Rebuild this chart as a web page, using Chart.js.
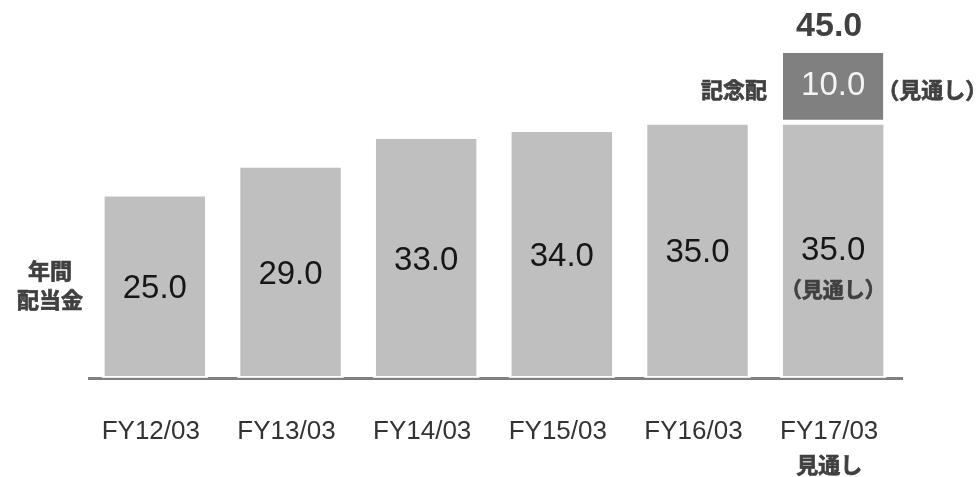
<!DOCTYPE html>
<html>
<head>
<meta charset="utf-8">
<script src="https://cdn.jsdelivr.net/npm/chart.js@4/dist/chart.umd.min.js"></script>
<style>
  html, body { margin: 0; padding: 0; background: #fff; }
  #wrap { width: 979px; height: 477px; }
</style>
</head>
<body>
<div id="wrap"><canvas id="c" width="979" height="477"></canvas></div>
<script>
const categories = ['FY12/03', 'FY13/03', 'FY14/03', 'FY15/03', 'FY16/03', 'FY17/03'];
const ordinaryDividend = [25.0, 29.0, 33.0, 34.0, 35.0, 35.0];
const commemorativeDividend = [null, null, null, null, null, 10.0];
const forecastNote = '（見通し）';
const forecastTickNote = '見通し';
const commemorativeLabel = '記念配';
const axisTitleLines = ['年間', '配当金'];

const JP = '"Noto Sans CJK JP", "Noto Sans", sans-serif';
const NUM = '"Liberation Sans", Arial, sans-serif';

function boldText(ctx, text, x, y) {
  ctx.fillText(text, x, y);
  ctx.lineWidth = 0.7;
  ctx.strokeStyle = ctx.fillStyle;
  ctx.strokeText(text, x, y);
}

const labelsPlugin = {
  id: 'labelsPlugin',
  beforeDatasetsDraw(chart) {
    const { ctx, chartArea } = chart;
    ctx.save();
    ctx.fillStyle = '#808080';
    ctx.fillRect(chartArea.left + 1, chartArea.bottom + 1, chartArea.right - chartArea.left + 1, 3);
    ctx.restore();
  },
  afterDatasetsDraw(chart) {
    const { ctx, chartArea } = chart;
    const base = chart.getDatasetMeta(0);
    const extra = chart.getDatasetMeta(1);
    ctx.save();
    ctx.fillStyle = '#ffffff';
    base.data.forEach(bar => {
      const w = bar.width;
      ctx.fillRect(bar.x - w / 2 - 3, chartArea.bottom + 0.5, w + 6, 1.3);
    });
    ctx.textAlign = 'center';
    ctx.textBaseline = 'middle';
    base.data.forEach((bar, i) => {
      const mid = (bar.y + bar.base) / 2;
      ctx.fillStyle = '#161616';
      ctx.font = '33px ' + NUM;
      if (commemorativeDividend[i] != null) {
        ctx.fillText(ordinaryDividend[i].toFixed(1), bar.x, mid + 1);
        ctx.fillStyle = '#404040';
        ctx.font = 'bold 21px ' + JP;
        boldText(ctx, forecastNote, bar.x, mid + 39);
      } else {
        ctx.fillText(ordinaryDividend[i].toFixed(1), bar.x, mid + 3);
      }
    });
    extra.data.forEach((bar, i) => {
      if (commemorativeDividend[i] == null) return;
      const mid = (bar.y + bar.base - 5) / 2;
      ctx.fillStyle = '#f4f4f4';
      ctx.font = '33px ' + NUM;
      ctx.textAlign = 'center';
      ctx.fillText(commemorativeDividend[i].toFixed(1), bar.x, mid);
      ctx.fillStyle = '#404040';
      ctx.font = 'bold 22px ' + JP;
      ctx.textAlign = 'right';
      boldText(ctx, commemorativeLabel, bar.x - bar.width / 2 - 16, mid + 3);
      ctx.textAlign = 'left';
      boldText(ctx, forecastNote, bar.x + bar.width / 2 - 6, mid + 3);
      ctx.textAlign = 'center';
      ctx.font = 'bold 34px ' + NUM;
      ctx.fillText((ordinaryDividend[i] + commemorativeDividend[i]).toFixed(1), bar.x - 4, bar.y - 26);
    });
    ctx.fillStyle = '#404040';
    ctx.font = 'bold 22px ' + JP;
    ctx.textAlign = 'center';
    boldText(ctx, axisTitleLines[0], 50, 271);
    boldText(ctx, axisTitleLines[1], 50, 300);
    const xs = chart.scales.x;
    const lastX = xs.getPixelForValue(categories.length - 1);
    ctx.font = 'bold 22px ' + JP;
    boldText(ctx, forecastTickNote, lastX - 4, 465);
    ctx.restore();
  }
};

new Chart(document.getElementById('c'), {
  type: 'bar',
  data: {
    labels: categories,
    datasets: [
      {
        data: ordinaryDividend,
        backgroundColor: '#bfbfbf',
        borderWidth: 0,
        barPercentage: 0.74,
        categoryPercentage: 1.0
      },
      {
        data: commemorativeDividend,
        backgroundColor: '#808080',
        borderColor: '#ffffff',
        borderWidth: { top: 0, left: 0, right: 0, bottom: 5 },
        borderSkipped: false,
        barPercentage: 0.74,
        categoryPercentage: 1.0
      }
    ]
  },
  options: {
    responsive: false,
    animation: false,
    layout: { padding: { left: 87, right: 78, top: 17, bottom: 0 } },
    plugins: { legend: { display: false }, tooltip: { enabled: false } },
    scales: {
      x: {
        stacked: true,
        grid: { display: false, drawTicks: false },
        border: { display: false },
        ticks: {
          color: '#333333',
          font: { family: NUM, size: 26 },
          padding: 40,
          labelOffset: -4,
          maxRotation: 0,
          autoSkip: false
        },
        afterFit(scale) { scale.height = 101; }
      },
      y: {
        stacked: true,
        display: false,
        min: 0,
        max: 50
      }
    }
  },
  plugins: [labelsPlugin]
});
</script>
</body>
</html>
